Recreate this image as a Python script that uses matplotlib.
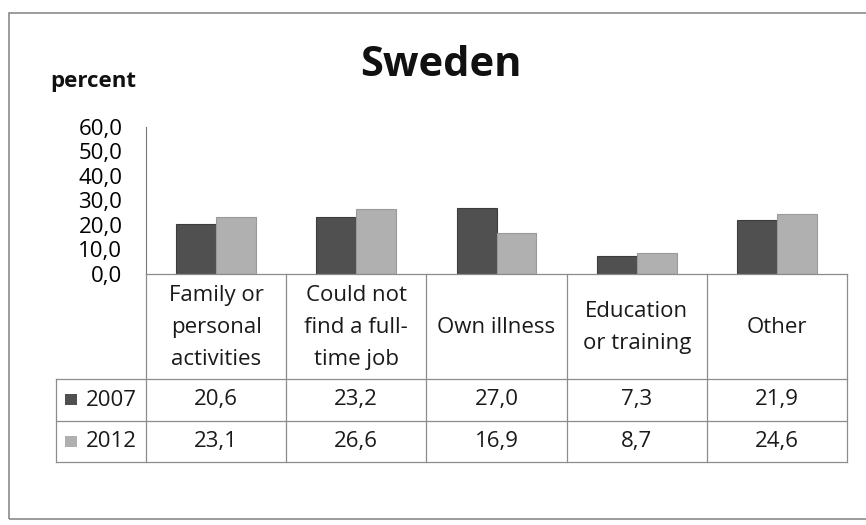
import numpy as np
from matplotlib import pyplot as plt
from matplotlib.patches import Rectangle
from matplotlib.lines import Line2D

plt.rcParams['font.family'] = ['Open Sans', 'DejaVu Sans']

categories = ['Family or\npersonal\nactivities', 'Could not\nfind a full-\ntime job',
              'Own illness', 'Education\nor training', 'Other']
years = ['2007', '2012']
values_2007 = [20.6, 23.2, 27.0, 7.3, 21.9]
values_2012 = [23.1, 26.6, 16.9, 8.7, 24.6]
yticks = [0, 10, 20, 30, 40, 50, 60]

colors = ['#505050', '#b0b0b0']
edges = ['#3c3c3c', '#9a9a9a']

W, H = 866, 525
fig = plt.figure(figsize=(W / 100, H / 100), dpi=100)
fig.patch.set_facecolor('white')


def fx(px):
    return px / W


def fy(py):
    return 1 - py / H


# Pixel layout of the plot area and the data table below it
left, right = 146, 847
y_top, y_zero = 127, 274
row_lines = [274, 379, 421, 462]
legend_left = 56

ax = fig.add_axes([fx(left), fy(y_zero), fx(right) - fx(left), fy(y_top) - fy(y_zero)])
x = np.arange(len(categories))
bw = 0.285
series = [values_2007, values_2012]
for i, vals in enumerate(series):
    ax.bar(x + (i - 0.5) * bw, vals, width=bw, color=colors[i], edgecolor=edges[i], linewidth=0.8)

ax.set_xlim(-0.5, len(categories) - 0.5)
ax.set_ylim(0, 60)
ax.set_yticks(yticks)
ax.set_yticklabels([f'{t:.1f}'.replace('.', ',') for t in yticks], fontsize=16)
ax.tick_params(axis='y', length=0, pad=17)
ax.set_xticks([])
for s in ['top', 'right', 'bottom']:
    ax.spines[s].set_visible(False)
ax.spines['left'].set_color('#777777')
ax.spines['left'].set_linewidth(0.8)
ax.patch.set_alpha(0)

# Data table drawn in figure pixel coordinates
col_edges = np.linspace(left, right, len(categories) + 1)
line_kw = dict(color='#8c8c8c', linewidth=0.9, transform=fig.transFigure)
# horizontal lines
fig.add_artist(Line2D([fx(left), fx(right)], [fy(row_lines[0])] * 2, **line_kw))
for ry in row_lines[1:]:
    fig.add_artist(Line2D([fx(legend_left), fx(right)], [fy(ry)] * 2, **line_kw))
# vertical lines
for cx in col_edges:
    fig.add_artist(Line2D([fx(cx)] * 2, [fy(row_lines[0]), fy(row_lines[-1])], **line_kw))
fig.add_artist(Line2D([fx(legend_left)] * 2, [fy(row_lines[1]), fy(row_lines[-1])], **line_kw))

centers = (col_edges[:-1] + col_edges[1:]) / 2
head_y = (row_lines[0] + row_lines[1]) / 2
for cx, label in zip(centers, categories):
    fig.text(fx(cx), fy(head_y + 1), label, ha='center', va='center', fontsize=16,
             linespacing=1.68, color='#1a1a1a')

for r, (year, vals) in enumerate(zip(years, series)):
    ry = (row_lines[r + 1] + row_lines[r + 2]) / 2
    fig.add_artist(Rectangle((fx(65), fy(ry + 5)), fx(12), fy(ry - 6) - fy(ry + 5),
                             transform=fig.transFigure, facecolor=colors[r], edgecolor='none'))
    fig.text(fx(86), fy(ry), year, ha='left', va='center', fontsize=16, color='#1a1a1a')
    for cx, v in zip(centers, vals):
        fig.text(fx(cx), fy(ry), f'{v:.1f}'.replace('.', ','), ha='center', va='center',
                 fontsize=16, color='#1a1a1a')

# Title and y-axis unit
fig.text(fx(441), fy(65), 'Sweden', ha='center', va='center', fontsize=30,
         fontweight='bold', color='#111111')
fig.text(fx(50), fy(81), 'percent', ha='left', va='center', fontsize=16,
         fontweight='bold', color='#111111')

# Chart area border
fig.add_artist(Rectangle((fx(9), fy(519)), fx(880), fy(13) - fy(519), transform=fig.transFigure,
                         facecolor='none', edgecolor='#8a8a8a', linewidth=1.2))

fig.savefig('out.png', dpi=100, facecolor='white')
